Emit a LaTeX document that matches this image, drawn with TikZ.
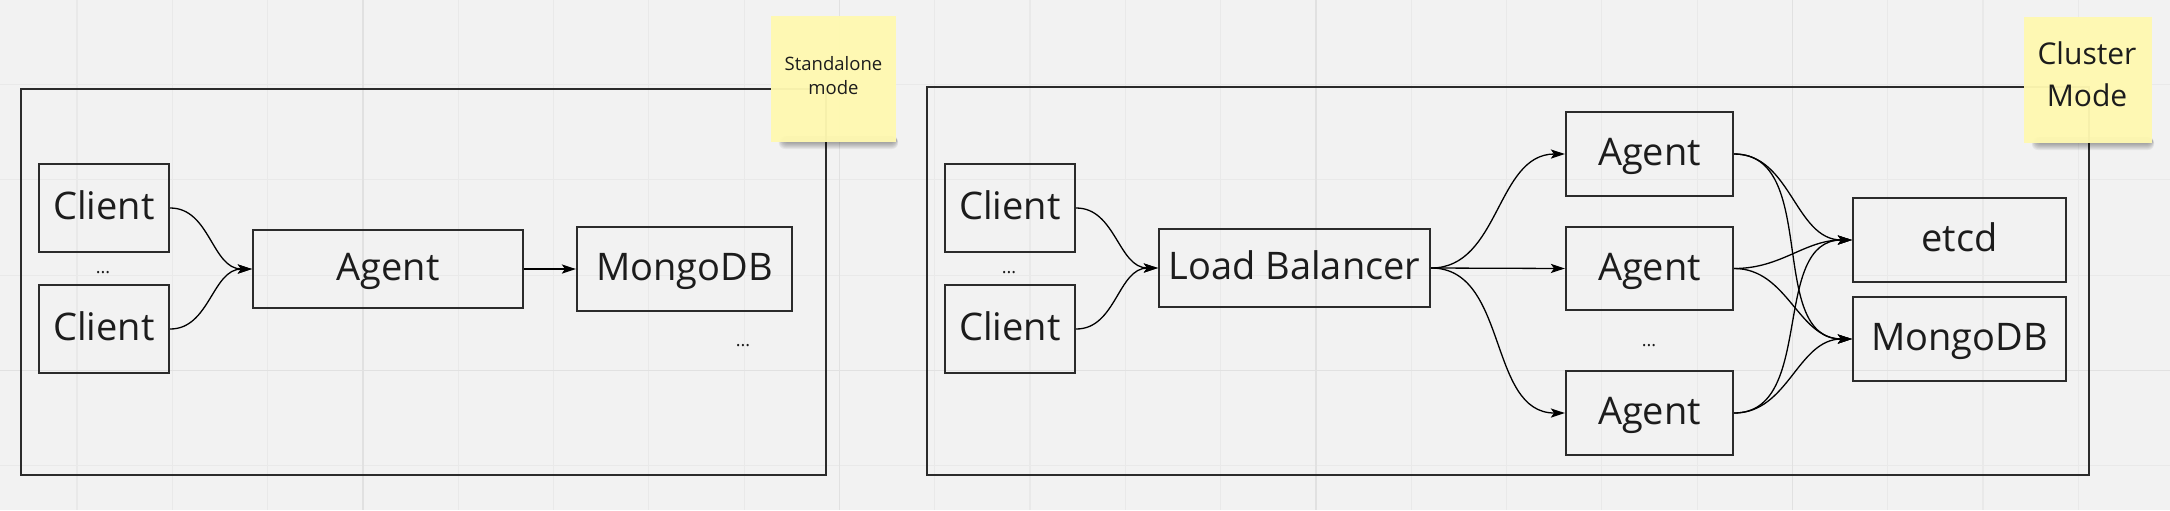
\documentclass[tikz,border=0pt]{standalone}
\usepackage{fontspec}
\setmainfont{Open Sans}
\usetikzlibrary{arrows.meta}
\definecolor{bg}{HTML}{F2F2F2}
\definecolor{gridl}{HTML}{E9E9E9}
\definecolor{gridd}{HTML}{E1E1E1}
\definecolor{boxc}{HTML}{2B2B2B}
\definecolor{txt}{HTML}{1C1C1C}
\definecolor{sticky}{HTML}{FFF9B1}
\tikzset{
  gline/.style={draw=gridl, line width=0.6pt},
  gdark/.style={draw=gridd, line width=0.8pt},
  frame/.style={draw=boxc, line width=1.2pt},
  box/.style={draw=boxc, line width=1.2pt, inner sep=0pt, text=txt,
    text height=14.5pt, text depth=3pt,
    font=\fontsize{19}{23}\selectfont},
  dots/.style={inner sep=0pt, text=txt, font=\fontsize{9}{11}\selectfont},
  conn/.style={draw=black, line width=0.65pt,
    -{Stealth[length=7pt, width=4.6pt, inset=1.6pt]}},
  stickytext/.style={inner sep=0pt, text=txt, align=center},
  shadowpiece/.style={fill=black, fill opacity=0.05, rounded corners=3pt}
}
\begin{document}
\begin{tikzpicture}[x=0.5pt, y=-0.5pt]
% background
\fill[bg] (0,0) rectangle (2170,510);
\useasboundingbox (0,0) rectangle (2170,510);
% grid
\foreach \k in {0,...,22} {
  \pgfmathsetmacro\xx{77+95.3*\k}
  \draw[gline] (\xx,0) -- (\xx,510);
}
\foreach \k in {0,...,4} {
  \pgfmathsetmacro\yy{84.5+95.3*\k}
  \draw[gline] (0,\yy) -- (2170,\yy);
}
\foreach \xx in {362.9,839.4,1315.9,1792.4} {
  \draw[gdark] (\xx,0) -- (\xx,510);
}
\draw[gdark] (0,370.4) -- (2170,370.4);

% ===== Standalone =====
\draw[frame] (21,89) rectangle (826,475);
\node[box, minimum width=65pt, minimum height=44pt] (lc1) at (104,208) {Client};
\node[box, minimum width=65pt, minimum height=44pt] (lc2) at (104,329) {Client};
\node[dots] (ldots1) at (103,273) {...};
\node[box, minimum width=135pt, minimum height=39pt] (lag) at (388,269) {Agent};
\node[box, minimum width=107.5pt, minimum height=42pt] (lmg) at (684.5,269) {MongoDB};
\node[dots] (ldots2) at (743,346) {...};
\draw[conn] (lc1.east) to[out=0, in=180] (lag.west);
\draw[conn] (lc2.east) to[out=0, in=180] (lag.west);
\draw[conn] (lag.east) -- (lmg.west);

% sticky 1
\foreach \i in {1,...,7} {
  \fill[shadowpiece] (783-\i*0.6,136) rectangle (896+\i*0.3,142+\i);
}
\fill[sticky, fill opacity=0.96] (771,16) rectangle (896,142);
\node[stickytext, font=\fontsize{9.25}{12}\selectfont] (st1) at (833.5,76) {Standalone\\mode};

% ===== Cluster =====
\draw[frame] (927,87) rectangle (2089,475);
\node[box, minimum width=65pt, minimum height=44pt] (rc1) at (1010,208) {Client};
\node[box, minimum width=65pt, minimum height=44pt] (rc2) at (1010,329) {Client};
\node[dots] (rdots1) at (1009,273) {...};
\node[box, minimum width=135.5pt, minimum height=39pt] (lb) at (1294.5,268) {Load Balancer};
\node[box, minimum width=83.5pt, minimum height=42pt] (ra1) at (1649.5,154) {Agent};
\node[box, minimum width=83.5pt, minimum height=41.5pt] (ra2) at (1649.5,268.5) {Agent};
\node[box, minimum width=83.5pt, minimum height=42pt] (ra3) at (1649.5,413) {Agent};
\node[dots] (rdots2) at (1649,346) {...};
\node[box, minimum width=106.5pt, minimum height=42pt] (etcd) at (1959.5,240) {etcd};
\node[box, minimum width=106.5pt, minimum height=42pt] (rmg) at (1959.5,339) {MongoDB};

\draw[conn] (rc1.east) to[out=0, in=180] (lb.west);
\draw[conn] (rc2.east) to[out=0, in=180] (lb.west);
\draw[conn] (lb.east) to[out=0, in=180] (ra1.west);
\draw[conn] (lb.east) -- (ra2.west);
\draw[conn] (lb.east) to[out=0, in=180] (ra3.west);
\foreach \a in {ra1,ra2,ra3} {
  \draw[conn] (\a.east) to[out=0, in=180] (etcd.west);
  \draw[conn] (\a.east) to[out=0, in=180] (rmg.west);
}

% sticky 2
\foreach \i in {1,...,7} {
  \fill[shadowpiece] (2036-\i*0.6,137) rectangle (2152+\i*0.3,143+\i);
}
\fill[sticky, fill opacity=0.96] (2024,17) rectangle (2152,143);
\node[stickytext, font=\fontsize{15}{21}\selectfont] (st2) at (2087,74) {Cluster\\Mode};
\end{tikzpicture}
\end{document}
